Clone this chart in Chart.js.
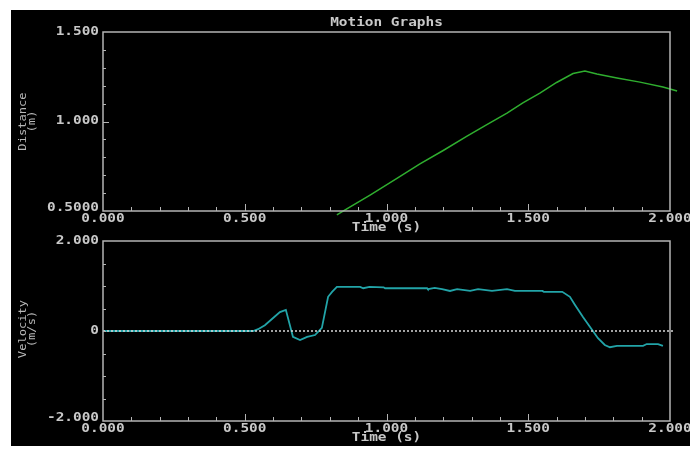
<!DOCTYPE html>
<html>
<head>
<meta charset="utf-8">
<title>Motion Graphs</title>
<script src="https://cdn.jsdelivr.net/npm/chart.js@4.4.0/dist/chart.umd.min.js"></script>
<style>
  body { margin: 0; background: #fff; }
  #panel { position: absolute; left: 11px; top: 10px; width: 679px; height: 436px; background: #000; overflow: hidden; }
  #panel canvas { position: absolute; left: 0; }
  #chartDist { top: 0; }
  #chartVel { top: 224px; }
</style>
</head>
<body>
<div id="panel">
  <canvas id="chartDist" width="679" height="224"></canvas>
  <canvas id="chartVel" width="679" height="212"></canvas>
</div>
<script>
// --- datos ---
const timeTicks = [0, 0.5, 1.0, 1.5, 2.0];
const timeTickLabels = ["0.000", "0.500", "1.000", "1.500", "2.000"];

const distTicks = [0.5, 1.0, 1.5];
const distTickLabels = ["0.5000", "1.000", "1.500"];

const velTicks = [-2, 0, 2];
const velTickLabels = ["-2.000", "0", "2.000"];

// distancia (m) frente a tiempo (s)
const distTime = [0.825, 0.854, 0.942, 1.041, 1.118, 1.200, 1.284, 1.354, 1.425, 1.481,
  1.541, 1.600, 1.658, 1.700, 1.742, 1.813, 1.894, 1.975, 2.025];
const distValue = [0.478, 0.506, 0.589, 0.686, 0.763, 0.838, 0.918, 0.982, 1.047, 1.104,
  1.159, 1.218, 1.268, 1.282, 1.265, 1.243, 1.220, 1.193, 1.170];

// velocidad (m/s) frente a tiempo (s)
const velTime = [
  0.000, 0.530, 0.547, 0.571, 0.600, 0.624, 0.645,
  0.670, 0.695, 0.720, 0.748, 0.772, 0.794, 0.808, 0.825,
  0.907, 0.918, 0.940, 0.990, 0.995, 1.143, 1.146, 1.170,
  1.196, 1.224, 1.249, 1.295, 1.323, 1.372, 1.425, 1.453,
  1.550, 1.555, 1.620, 1.647, 1.665, 1.693, 1.728, 1.746,
  1.770, 1.788, 1.813, 1.905, 1.918, 1.958, 1.975
];
const velValue = [
  0.00, 0.00, 0.04, 0.13, 0.29, 0.42, 0.47,
  -0.13, -0.20, -0.13, -0.09, 0.07, 0.76, 0.87, 0.98,
  0.98, 0.95, 0.98, 0.97, 0.95, 0.95, 0.93, 0.96,
  0.93, 0.89, 0.93, 0.89, 0.93, 0.89, 0.93, 0.89,
  0.89, 0.87, 0.87, 0.76, 0.58, 0.31, 0.00, -0.16,
  -0.31, -0.36, -0.33, -0.33, -0.29, -0.29, -0.33
];

// --- estilos ---
const TEXT = "#c8c8c8";
const FRAME = "#b4b4b4";
const MONO = "'DejaVu Sans Mono', monospace";
const TICK_FONT = "bold 12px " + MONO;
const SMALL_FONT = "11px " + MONO;

function drawText(ctx, str, x, y, opts = {}) {
  ctx.save();
  ctx.translate(x, y);
  if (opts.rotate) ctx.rotate(opts.rotate);
  ctx.scale(opts.stretch || 1.2, 1);
  ctx.font = opts.font || TICK_FONT;
  ctx.fillStyle = opts.color || TEXT;
  ctx.textAlign = opts.align || "center";
  ctx.textBaseline = "middle";
  ctx.fillText(str, 0, 0);
  ctx.restore();
}

function tickLine(ctx, x1, y1, x2, y2) {
  ctx.beginPath();
  ctx.moveTo(x1, y1);
  ctx.lineTo(x2, y2);
  ctx.stroke();
}

// --- marco, marcas, rótulos (estilo pantalla antigua) ---
const motionAxes = {
  id: "motionAxes",
  afterDatasetsDraw(chart, args, o) {
    const { ctx, chartArea: a, scales: { x, y } } = chart;
    ctx.save();

    // línea de cero punteada
    if (o.zeroLine) {
      const py = y.getPixelForValue(0);
      ctx.strokeStyle = "#d8d8d8";
      ctx.lineWidth = 1.5;
      ctx.setLineDash([2, 2]);
      tickLine(ctx, a.left, py, a.right + 3, py);
      ctx.setLineDash([]);
    }

    // marco
    ctx.strokeStyle = FRAME;
    ctx.lineWidth = 1.5;
    ctx.strokeRect(a.left, a.top, a.right - a.left, a.bottom - a.top);

    // marcas del eje x (hacia dentro)
    ctx.lineWidth = 1;
    for (let i = 1; i < 20; i++) {
      const px = Math.round(x.getPixelForValue(i / 10)) + 0.5;
      const len = i % 5 === 0 ? 7 : 4;
      tickLine(ctx, px, a.bottom, px, a.bottom - len);
    }

    // marcas del eje y
    const [lo, hi] = [y.min, y.max];
    const n = Math.round((hi - lo) / o.yStep);
    for (let i = 1; i < n; i++) {
      const v = lo + i * o.yStep;
      const py = Math.round(y.getPixelForValue(v)) + 0.5;
      const len = o.yMajor.some((m) => Math.abs(m - v) < 1e-6) ? 6 : 3;
      tickLine(ctx, a.left, py, a.left + len, py);
    }

    // rótulos eje x
    timeTicks.forEach((t, i) => {
      drawText(ctx, timeTickLabels[i], x.getPixelForValue(t), a.bottom + 7.5);
    });
    drawText(ctx, "Time (s)", (a.left + a.right) / 2, a.bottom + 17);

    // rótulos eje y
    o.yTicks.forEach((v, i) => {
      const off = i === 0 ? -3 : -0.5;
      drawText(ctx, o.yTickLabels[i], a.left - 4, y.getPixelForValue(v) + off, { align: "right" });
    });

    // título del eje y en dos líneas, vertical
    const cy = (a.top + a.bottom) / 2 + (o.yTitleShift || 0);
    drawText(ctx, o.yTitle[0], 12.5, cy, { rotate: -Math.PI / 2, font: SMALL_FONT, stretch: 1.1, color: "#b8b8b8" });
    drawText(ctx, o.yTitle[1], 21.5, cy, { rotate: -Math.PI / 2, font: SMALL_FONT, stretch: 1.1, color: "#b8b8b8" });

    if (o.title) drawText(ctx, o.title, (a.left + a.right) / 2, a.top - 9.5);

    ctx.restore();
  },
};

function makeMotionChart(canvas, series, color, width, yRange, padding, axisOpts) {
  return new Chart(canvas, {
    type: "line",
    data: {
      datasets: [
        {
          data: series,
          borderColor: color,
          borderWidth: width,
          pointRadius: 0,
          tension: 0,
          fill: false,
          clip: false,
        },
      ],
    },
    options: {
      responsive: false,
      animation: false,
      events: [],
      layout: { padding },
      plugins: { legend: { display: false }, tooltip: { enabled: false }, motionAxes: axisOpts },
      scales: {
        x: { type: "linear", min: 0, max: 2, display: false },
        y: { type: "linear", min: yRange[0], max: yRange[1], display: false },
      },
    },
    plugins: [motionAxes],
  });
}

const distSeries = distTime.map((t, i) => ({ x: t, y: distValue[i] }));
const velSeries = velTime.map((t, i) => ({ x: t, y: velValue[i] }));

makeMotionChart(
  document.getElementById("chartDist"),
  distSeries, "#2fae2f", 1.5, [0.5, 1.5],
  { left: 92, right: 20, top: 22, bottom: 23 },
  { title: "Motion Graphs", yStep: 0.1, yMajor: [1.0], yTicks: distTicks, yTickLabels: distTickLabels, yTitle: ["Distance", "(m)"] }
);

makeMotionChart(
  document.getElementById("chartVel"),
  velSeries, "#22a4a8", 1.8, [-2, 2],
  { left: 92, right: 20, top: 7, bottom: 25 },
  { zeroLine: true, yStep: 0.5, yMajor: [], yTicks: velTicks, yTickLabels: velTickLabels, yTitle: ["Velocity", "(m/s)"], yTitleShift: -2 }
);
</script>
</body>
</html>
